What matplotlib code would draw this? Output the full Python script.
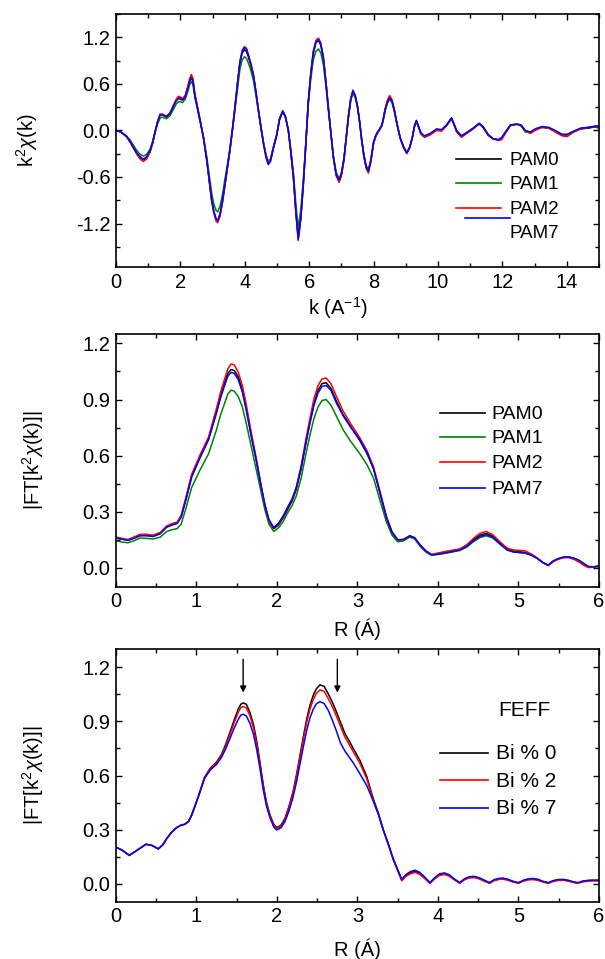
import matplotlib
matplotlib.use("Agg")
import matplotlib.pyplot as plt
from matplotlib.lines import Line2D
from matplotlib.ticker import MultipleLocator

plt.rcParams['font.family'] = ['Liberation Sans', 'DejaVu Sans']
plt.rcParams['mathtext.fontset'] = 'custom'
plt.rcParams['mathtext.rm'] = 'Liberation Sans'
plt.rcParams['mathtext.it'] = 'Liberation Sans:italic'
plt.rcParams['axes.unicode_minus'] = False
plt.rcParams['font.size'] = 12

# ---- k-space EXAFS, k^2 chi(k) ----
k = [0.00, 0.15, 0.33, 0.45, 0.54, 0.65, 0.75, 0.85, 0.95, 1.06,
     1.14, 1.21, 1.29, 1.37, 1.45, 1.57, 1.68, 1.78, 1.87, 1.94,
     2.00, 2.07, 2.15, 2.23, 2.29, 2.34, 2.39, 2.45, 2.53, 2.61,
     2.72, 2.82, 2.90, 2.97, 3.04, 3.11, 3.16, 3.23, 3.31, 3.39,
     3.47, 3.54, 3.62, 3.70, 3.78, 3.85, 3.92, 3.99, 4.05, 4.11,
     4.19, 4.27, 4.35, 4.42, 4.50, 4.58, 4.66, 4.73, 4.80, 4.89,
     4.99, 5.08, 5.18, 5.26, 5.35, 5.43, 5.51, 5.59, 5.66, 5.74,
     5.82, 5.90, 5.97, 6.05, 6.13, 6.21, 6.29, 6.36, 6.44, 6.52,
     6.60, 6.68, 6.75, 6.84, 6.93, 7.00, 7.08, 7.15, 7.22, 7.29,
     7.36, 7.43, 7.50, 7.57, 7.63, 7.70, 7.77, 7.84, 7.92, 8.00,
     8.06, 8.12, 8.19, 8.26, 8.31, 8.36, 8.43, 8.50, 8.57, 8.64,
     8.73, 8.83, 8.93, 9.03, 9.12, 9.20, 9.27, 9.33, 9.40, 9.47,
     9.58, 9.75, 9.96, 10.11, 10.27, 10.42, 10.50, 10.58, 10.73, 10.89,
     11.10, 11.28, 11.40, 11.56, 11.72, 11.88, 11.98, 12.09, 12.25, 12.45,
     12.58, 12.71, 12.87, 13.02, 13.23, 13.44, 13.64, 13.85, 14.01, 14.22,
     14.43, 14.69, 14.90, 15.00]

chi_pam0 = [0.00, -0.02, -0.08, -0.15, -0.22, -0.30, -0.35, -0.38, -0.35, -0.27,
            -0.16, -0.03, 0.10, 0.20, 0.20, 0.17, 0.22, 0.31, 0.39, 0.43,
            0.42, 0.40, 0.44, 0.55, 0.65, 0.70, 0.65, 0.46, 0.30, 0.14,
            -0.10, -0.38, -0.65, -0.89, -1.05, -1.15, -1.17, -1.09, -0.91, -0.68,
            -0.46, -0.25, 0.02, 0.31, 0.62, 0.87, 1.00, 1.04, 1.02, 0.95,
            0.84, 0.70, 0.48, 0.27, 0.05, -0.16, -0.33, -0.42, -0.38, -0.22,
            -0.06, 0.15, 0.25, 0.18, 0.01, -0.27, -0.59, -1.05, -1.38, -1.12,
            -0.68, -0.15, 0.35, 0.72, 1.00, 1.13, 1.16, 1.10, 0.93, 0.62,
            0.27, -0.05, -0.34, -0.57, -0.65, -0.57, -0.38, -0.10, 0.18, 0.40,
            0.50, 0.44, 0.31, 0.10, -0.12, -0.33, -0.47, -0.53, -0.38, -0.16,
            -0.08, -0.03, 0.01, 0.07, 0.16, 0.27, 0.37, 0.43, 0.38, 0.27,
            0.08, -0.10, -0.21, -0.29, -0.22, -0.10, 0.05, 0.12, 0.04, -0.04,
            -0.08, -0.05, 0.01, 0.00, 0.07, 0.16, 0.08, -0.01, -0.08, -0.03,
            0.03, 0.09, 0.04, -0.06, -0.11, -0.12, -0.10, -0.03, 0.07, 0.08,
            0.06, -0.01, -0.03, 0.01, 0.04, 0.03, -0.01, -0.06, -0.06, -0.01,
            0.02, 0.03, 0.05, 0.04]

chi_pam1 = [0.00, -0.02, -0.07, -0.13, -0.19, -0.26, -0.31, -0.33, -0.31, -0.24,
            -0.14, -0.03, 0.08, 0.16, 0.17, 0.15, 0.19, 0.27, 0.34, 0.37,
            0.37, 0.36, 0.40, 0.50, 0.59, 0.63, 0.59, 0.42, 0.27, 0.12,
            -0.09, -0.34, -0.59, -0.80, -0.95, -1.03, -1.05, -0.98, -0.82, -0.61,
            -0.42, -0.23, 0.01, 0.28, 0.56, 0.79, 0.91, 0.95, 0.93, 0.87,
            0.77, 0.64, 0.44, 0.25, 0.04, -0.15, -0.31, -0.40, -0.36, -0.21,
            -0.06, 0.14, 0.24, 0.17, 0.01, -0.25, -0.54, -0.96, -1.26, -1.02,
            -0.62, -0.14, 0.32, 0.66, 0.91, 1.02, 1.05, 1.00, 0.85, 0.57,
            0.25, -0.05, -0.32, -0.54, -0.62, -0.55, -0.36, -0.10, 0.17, 0.38,
            0.48, 0.42, 0.30, 0.10, -0.11, -0.31, -0.45, -0.51, -0.37, -0.16,
            -0.08, -0.03, 0.01, 0.06, 0.15, 0.25, 0.35, 0.40, 0.36, 0.25,
            0.07, -0.10, -0.21, -0.29, -0.22, -0.10, 0.05, 0.11, 0.04, -0.04,
            -0.08, -0.05, 0.01, 0.00, 0.07, 0.15, 0.08, -0.01, -0.07, -0.03,
            0.03, 0.08, 0.04, -0.06, -0.11, -0.12, -0.10, -0.02, 0.07, 0.08,
            0.06, -0.02, -0.03, 0.01, 0.04, 0.03, -0.01, -0.05, -0.06, -0.02,
            0.02, 0.04, 0.04, 0.03]

chi_pam2 = [0.00, -0.02, -0.08, -0.16, -0.23, -0.31, -0.37, -0.40, -0.37, -0.28,
            -0.17, -0.03, 0.11, 0.21, 0.21, 0.18, 0.23, 0.32, 0.40, 0.44,
            0.43, 0.41, 0.45, 0.57, 0.67, 0.72, 0.67, 0.47, 0.31, 0.14,
            -0.11, -0.39, -0.67, -0.91, -1.07, -1.17, -1.19, -1.11, -0.93, -0.70,
            -0.47, -0.26, 0.02, 0.32, 0.64, 0.89, 1.03, 1.08, 1.06, 0.98,
            0.86, 0.72, 0.49, 0.28, 0.05, -0.16, -0.33, -0.41, -0.38, -0.22,
            -0.06, 0.15, 0.25, 0.18, 0.01, -0.28, -0.61, -1.08, -1.42, -1.15,
            -0.70, -0.15, 0.36, 0.74, 1.03, 1.16, 1.19, 1.13, 0.95, 0.63,
            0.28, -0.05, -0.35, -0.59, -0.67, -0.59, -0.39, -0.10, 0.19, 0.41,
            0.52, 0.45, 0.32, 0.10, -0.12, -0.34, -0.49, -0.55, -0.40, -0.17,
            -0.09, -0.04, 0.01, 0.07, 0.17, 0.28, 0.39, 0.45, 0.40, 0.28,
            0.08, -0.11, -0.22, -0.30, -0.23, -0.10, 0.05, 0.12, 0.04, -0.05,
            -0.09, -0.06, 0.00, -0.01, 0.06, 0.15, 0.07, -0.02, -0.09, -0.04,
            0.02, 0.09, 0.05, -0.05, -0.11, -0.13, -0.12, -0.04, 0.06, 0.08,
            0.07, 0.00, -0.04, 0.00, 0.04, 0.03, -0.02, -0.07, -0.08, -0.02,
            0.02, 0.04, 0.06, 0.05]

chi_pam7 = [0.00, -0.02, -0.08, -0.15, -0.22, -0.29, -0.34, -0.37, -0.34, -0.26,
            -0.15, -0.02, 0.11, 0.20, 0.20, 0.18, 0.22, 0.31, 0.38, 0.41,
            0.40, 0.39, 0.43, 0.54, 0.63, 0.68, 0.63, 0.45, 0.29, 0.13,
            -0.10, -0.38, -0.65, -0.89, -1.04, -1.14, -1.16, -1.08, -0.90, -0.67,
            -0.45, -0.24, 0.03, 0.32, 0.63, 0.88, 1.02, 1.07, 1.05, 0.97,
            0.85, 0.71, 0.49, 0.27, 0.04, -0.17, -0.35, -0.44, -0.40, -0.23,
            -0.07, 0.14, 0.25, 0.18, 0.01, -0.27, -0.60, -1.06, -1.40, -1.13,
            -0.69, -0.15, 0.35, 0.73, 1.01, 1.14, 1.17, 1.11, 0.94, 0.62,
            0.27, -0.05, -0.34, -0.57, -0.64, -0.56, -0.37, -0.09, 0.18, 0.40,
            0.51, 0.45, 0.31, 0.10, -0.12, -0.33, -0.47, -0.52, -0.37, -0.15,
            -0.07, -0.02, 0.02, 0.07, 0.16, 0.27, 0.36, 0.42, 0.38, 0.27,
            0.08, -0.10, -0.21, -0.29, -0.22, -0.10, 0.06, 0.13, 0.05, -0.03,
            -0.07, -0.04, 0.02, 0.01, 0.07, 0.16, 0.08, 0.00, -0.07, -0.03,
            0.03, 0.09, 0.05, -0.06, -0.11, -0.12, -0.09, -0.03, 0.07, 0.08,
            0.07, 0.00, -0.02, 0.02, 0.05, 0.04, 0.00, -0.05, -0.05, -0.01,
            0.03, 0.04, 0.05, 0.06]

# ---- Fourier transform magnitude, measured ----
r_exp = [0.00, 0.08, 0.15, 0.22, 0.30, 0.38, 0.46, 0.55, 0.63, 0.70,
         0.76, 0.81, 0.87, 0.94, 1.04, 1.15, 1.25, 1.30, 1.35, 1.39,
         1.43, 1.47, 1.52, 1.57, 1.62, 1.68, 1.75, 1.80, 1.85, 1.90,
         1.96, 2.02, 2.08, 2.14, 2.19, 2.24, 2.30, 2.36, 2.41, 2.46,
         2.51, 2.56, 2.61, 2.67, 2.74, 2.82, 2.91, 3.03, 3.12, 3.20,
         3.28, 3.36, 3.43, 3.50, 3.57, 3.65, 3.71, 3.78, 3.85, 3.92,
         4.00, 4.11, 4.27, 4.36, 4.44, 4.52, 4.60, 4.68, 4.77, 4.86,
         4.94, 5.08, 5.16, 5.23, 5.30, 5.37, 5.43, 5.49, 5.56, 5.62,
         5.69, 5.76, 5.82, 5.87, 5.94, 6.00]

ft_pam0 = [0.160, 0.155, 0.148, 0.160, 0.175, 0.175, 0.170, 0.185, 0.220, 0.232,
           0.240, 0.275, 0.370, 0.490, 0.590, 0.690, 0.840, 0.920, 0.990, 1.040,
           1.060, 1.055, 1.020, 0.950, 0.850, 0.710, 0.560, 0.440, 0.330, 0.250,
           0.210, 0.230, 0.270, 0.320, 0.360, 0.420, 0.530, 0.670, 0.780, 0.880,
           0.950, 0.985, 0.990, 0.960, 0.890, 0.820, 0.760, 0.680, 0.610, 0.530,
           0.400, 0.270, 0.190, 0.150, 0.150, 0.170, 0.160, 0.120, 0.090, 0.070,
           0.075, 0.083, 0.098, 0.120, 0.150, 0.175, 0.185, 0.170, 0.133, 0.100,
           0.090, 0.083, 0.070, 0.053, 0.030, 0.014, 0.035, 0.048, 0.057, 0.059,
           0.050, 0.036, 0.018, 0.005, 0.005, 0.009]

ft_pam1 = [0.145, 0.138, 0.135, 0.145, 0.160, 0.158, 0.155, 0.165, 0.195, 0.205,
           0.210, 0.235, 0.320, 0.430, 0.520, 0.610, 0.740, 0.820, 0.880, 0.930,
           0.950, 0.945, 0.915, 0.860, 0.770, 0.650, 0.510, 0.410, 0.310, 0.235,
           0.195, 0.215, 0.250, 0.300, 0.335, 0.385, 0.480, 0.610, 0.710, 0.800,
           0.860, 0.895, 0.900, 0.870, 0.810, 0.740, 0.680, 0.610, 0.550, 0.480,
           0.360, 0.245, 0.175, 0.140, 0.145, 0.165, 0.155, 0.115, 0.085, 0.068,
           0.072, 0.080, 0.093, 0.112, 0.140, 0.162, 0.172, 0.160, 0.127, 0.095,
           0.086, 0.080, 0.068, 0.052, 0.030, 0.015, 0.036, 0.049, 0.057, 0.059,
           0.050, 0.037, 0.019, 0.007, 0.007, 0.010]

ft_pam2 = [0.165, 0.158, 0.152, 0.165, 0.180, 0.180, 0.175, 0.190, 0.225, 0.238,
           0.245, 0.282, 0.380, 0.500, 0.600, 0.700, 0.855, 0.940, 1.010, 1.065,
           1.090, 1.085, 1.045, 0.975, 0.870, 0.725, 0.570, 0.445, 0.335, 0.255,
           0.215, 0.235, 0.278, 0.330, 0.370, 0.430, 0.545, 0.690, 0.800, 0.905,
           0.975, 1.010, 1.015, 0.985, 0.915, 0.840, 0.775, 0.695, 0.625, 0.540,
           0.410, 0.275, 0.192, 0.152, 0.152, 0.172, 0.162, 0.123, 0.092, 0.073,
           0.080, 0.090, 0.102, 0.125, 0.158, 0.185, 0.195, 0.178, 0.140, 0.106,
           0.096, 0.092, 0.075, 0.055, 0.030, 0.013, 0.033, 0.046, 0.055, 0.056,
           0.046, 0.030, 0.012, 0.002, 0.005, 0.012]

ft_pam7 = [0.160, 0.153, 0.148, 0.158, 0.172, 0.172, 0.168, 0.183, 0.218, 0.230,
           0.238, 0.272, 0.365, 0.485, 0.585, 0.685, 0.830, 0.910, 0.975, 1.025,
           1.045, 1.040, 1.005, 0.940, 0.840, 0.705, 0.560, 0.445, 0.340, 0.260,
           0.215, 0.240, 0.280, 0.330, 0.370, 0.430, 0.535, 0.670, 0.775, 0.870,
           0.935, 0.970, 0.975, 0.950, 0.880, 0.815, 0.755, 0.685, 0.615, 0.530,
           0.400, 0.270, 0.190, 0.150, 0.152, 0.172, 0.162, 0.122, 0.090, 0.070,
           0.074, 0.082, 0.096, 0.117, 0.145, 0.168, 0.178, 0.165, 0.130, 0.097,
           0.085, 0.080, 0.068, 0.052, 0.030, 0.015, 0.037, 0.050, 0.058, 0.060,
           0.053, 0.040, 0.022, 0.008, 0.006, 0.012]

# ---- Fourier transform magnitude, FEFF calculation ----
r_feff = [0.00, 0.08, 0.165, 0.26, 0.373, 0.45, 0.525, 0.58, 0.63, 0.69,
          0.75, 0.80, 0.857, 0.90, 0.94, 1.02, 1.10, 1.17, 1.25, 1.31,
          1.36, 1.416, 1.47, 1.52, 1.55, 1.58, 1.62, 1.664, 1.71, 1.75,
          1.79, 1.83, 1.87, 1.914, 1.96, 1.996, 2.05, 2.10, 2.15, 2.20,
          2.245, 2.286, 2.33, 2.37, 2.41, 2.45, 2.49, 2.534, 2.585, 2.637,
          2.69, 2.74, 2.79, 2.845, 2.90, 2.948, 3.03, 3.115, 3.19, 3.26,
          3.32, 3.39, 3.445, 3.50, 3.55, 3.60, 3.66, 3.715, 3.77, 3.83,
          3.90, 3.96, 4.02, 4.08, 4.14, 4.20, 4.27, 4.33, 4.39, 4.45,
          4.51, 4.57, 4.64, 4.70, 4.76, 4.81, 4.87, 4.93, 5.00, 5.06,
          5.12, 5.18, 5.24, 5.30, 5.37, 5.43, 5.49, 5.56, 5.62, 5.68,
          5.74, 5.80, 5.87, 5.93, 6.00]

feff_bi0 = [0.203, 0.185, 0.157, 0.185, 0.219, 0.212, 0.193, 0.215, 0.250, 0.285,
            0.310, 0.323, 0.330, 0.345, 0.380, 0.480, 0.590, 0.640, 0.675, 0.716,
            0.770, 0.840, 0.910, 0.970, 0.995, 1.003, 0.995, 0.950, 0.880, 0.786,
            0.670, 0.547, 0.450, 0.380, 0.330, 0.311, 0.325, 0.363, 0.430, 0.510,
            0.610, 0.712, 0.820, 0.915, 0.990, 1.044, 1.082, 1.103, 1.095, 1.053,
            1.005, 0.952, 0.895, 0.832, 0.790, 0.750, 0.685, 0.595, 0.480, 0.390,
            0.300, 0.210, 0.135, 0.075, 0.022, 0.045, 0.062, 0.068, 0.058, 0.035,
            0.004, 0.030, 0.050, 0.055, 0.045, 0.025, 0.004, 0.025, 0.035, 0.037,
            0.030, 0.018, 0.004, 0.020, 0.027, 0.028, 0.022, 0.012, 0.004, 0.017,
            0.024, 0.026, 0.022, 0.012, 0.004, 0.015, 0.021, 0.022, 0.017, 0.009,
            0.004, 0.013, 0.017, 0.018, 0.018]

feff_bi2 = [0.203, 0.185, 0.157, 0.185, 0.219, 0.212, 0.193, 0.215, 0.250, 0.285,
            0.310, 0.323, 0.330, 0.345, 0.380, 0.480, 0.588, 0.636, 0.670, 0.710,
            0.760, 0.828, 0.895, 0.952, 0.977, 0.983, 0.975, 0.932, 0.862, 0.772,
            0.660, 0.540, 0.445, 0.375, 0.325, 0.306, 0.320, 0.357, 0.423, 0.502,
            0.600, 0.700, 0.805, 0.897, 0.968, 1.020, 1.056, 1.075, 1.068, 1.027,
            0.980, 0.928, 0.872, 0.812, 0.770, 0.732, 0.668, 0.583, 0.472, 0.385,
            0.297, 0.208, 0.133, 0.072, 0.016, 0.040, 0.056, 0.062, 0.053, 0.031,
            0.002, 0.027, 0.046, 0.051, 0.042, 0.022, 0.002, 0.022, 0.032, 0.034,
            0.027, 0.015, 0.002, 0.017, 0.024, 0.025, 0.019, 0.010, 0.002, 0.014,
            0.021, 0.023, 0.019, 0.010, 0.002, 0.012, 0.018, 0.019, 0.014, 0.007,
            0.002, 0.010, 0.014, 0.016, 0.016]

feff_bi7 = [0.203, 0.185, 0.157, 0.185, 0.219, 0.212, 0.193, 0.215, 0.250, 0.285,
            0.310, 0.323, 0.330, 0.345, 0.380, 0.478, 0.584, 0.630, 0.662, 0.700,
            0.745, 0.805, 0.865, 0.912, 0.935, 0.940, 0.930, 0.890, 0.825, 0.740,
            0.635, 0.520, 0.430, 0.365, 0.315, 0.298, 0.310, 0.345, 0.405, 0.480,
            0.570, 0.665, 0.765, 0.852, 0.920, 0.967, 0.998, 1.010, 1.000, 0.962,
            0.905, 0.845, 0.780, 0.735, 0.700, 0.670, 0.610, 0.545, 0.465, 0.385,
            0.300, 0.212, 0.138, 0.078, 0.025, 0.050, 0.068, 0.075, 0.064, 0.040,
            0.006, 0.034, 0.055, 0.060, 0.050, 0.028, 0.006, 0.028, 0.039, 0.041,
            0.034, 0.021, 0.006, 0.023, 0.030, 0.031, 0.025, 0.014, 0.006, 0.019,
            0.027, 0.029, 0.025, 0.014, 0.006, 0.017, 0.023, 0.024, 0.019, 0.011,
            0.006, 0.015, 0.019, 0.020, 0.020]

arrow_r = [1.58, 2.75]
exp_labels = ['PAM0', 'PAM1', 'PAM2', 'PAM7']
feff_labels = ['Bi % 0', 'Bi % 2', 'Bi % 7']
colors4 = ['black', '#008000', 'red', 'blue']
colors3 = ['black', 'red', 'blue']

TICK_FS = 14.5
LABEL_FS = 14.5


def style_axes(ax, xmajor, xminor, ymajor, yminor):
    ax.xaxis.set_major_locator(MultipleLocator(xmajor))
    ax.xaxis.set_minor_locator(MultipleLocator(xminor))
    ax.yaxis.set_major_locator(MultipleLocator(ymajor))
    ax.yaxis.set_minor_locator(MultipleLocator(yminor))
    ax.tick_params(which='both', direction='in', top=True, right=True,
                   labelsize=TICK_FS, width=1.0)
    ax.tick_params(which='major', length=4)
    ax.tick_params(which='minor', length=3)
    ax.tick_params(axis='x', pad=4)
    ax.tick_params(axis='y', pad=4)
    for s in ax.spines.values():
        s.set_linewidth(1.2)


def set_labels(ax, xl, yl, xpos, ypos, xcenter=0.5):
    ax.set_xlabel(xl, fontsize=LABEL_FS)
    ax.set_ylabel(yl, fontsize=LABEL_FS)
    ax.xaxis.set_label_coords(xcenter, xpos)
    ax.xaxis.label.set_verticalalignment('center')
    ax.yaxis.set_label_coords(ypos, 0.5)
    ax.yaxis.label.set_verticalalignment('center')
    ax.yaxis.label.set_rotation_mode('anchor')


def key_line(ax, x0, x1, y, color):
    ax.add_line(Line2D([x0, x1], [y, y], transform=ax.transAxes,
                       color=color, lw=1.2))


fig = plt.figure(figsize=(6.05, 9.59), dpi=100)
ax1 = fig.add_axes([0.1917, 0.7216, 0.7983, 0.2638])
ax2 = fig.add_axes([0.1917, 0.3882, 0.7983, 0.2635])
ax3 = fig.add_axes([0.1917, 0.0597, 0.7983, 0.2632])

# top: k^2 chi(k)
for y, c in zip([chi_pam0, chi_pam1, chi_pam2, chi_pam7], colors4):
    ax1.plot(k, y, color=c, lw=1.1)
ax1.set_xlim(0, 15)
ax1.set_ylim(-1.76, 1.5)
style_axes(ax1, 2, 1, 0.6, 0.3)
set_labels(ax1, r'k (A$^{-1}$)', r'k$^2\chi$(k)', -0.162, -0.184, xcenter=0.46)
# legend entries as drawn in the original figure (blue key sits between rows)
key_line(ax1, 0.703, 0.797, 0.428, 'black')
key_line(ax1, 0.703, 0.797, 0.331, '#008000')
key_line(ax1, 0.703, 0.797, 0.232, 'red')
key_line(ax1, 0.7226, 0.8149, 0.1925, 'blue')
for lab, yy in zip(exp_labels, [0.419, 0.328, 0.229, 0.134]):
    ax1.text(0.8157, yy, lab, transform=ax1.transAxes, fontsize=13.5,
             ha='left', va='center')

# middle: measured FT
for y, c, lab in zip([ft_pam0, ft_pam1, ft_pam2, ft_pam7], colors4, exp_labels):
    ax2.plot(r_exp, y, color=c, lw=1.1, label=lab)
ax2.set_xlim(0, 6)
ax2.set_ylim(-0.1, 1.25)
style_axes(ax2, 1, 0.5, 0.3, 0.15)
set_labels(ax2, 'R (Á)', r'|FT[k$^2\chi$(k)]|', -0.167, -0.172)
for c, lab, yy in zip(colors4, exp_labels, [0.6886, 0.5913, 0.4923, 0.3918]):
    key_line(ax2, 0.6708, 0.7631, yy, c)
    ax2.text(0.7774, yy - 0.006, lab, transform=ax2.transAxes, fontsize=14,
             ha='left', va='center')

# bottom: FEFF FT
for y, c in zip([feff_bi0, feff_bi2, feff_bi7], colors3):
    ax3.plot(r_feff, y, color=c, lw=1.1)
ax3.set_xlim(0, 6)
ax3.set_ylim(-0.1, 1.3)
style_axes(ax3, 1, 0.5, 0.3, 0.15)
set_labels(ax3, 'R (Á)', r'|FT[k$^2\chi$(k)]|', -0.19, -0.172)
ax3.text(0.791, 0.757, 'FEFF', transform=ax3.transAxes, fontsize=15,
         ha='left', va='center')
for c, lab, yy in zip(colors3, feff_labels, [0.5903, 0.4822, 0.3724]):
    key_line(ax3, 0.6708, 0.7710, yy, c)
    ax3.text(0.7867, yy - 0.004, lab, transform=ax3.transAxes, fontsize=15,
             ha='left', va='center')
for xr in arrow_r:
    ax3.annotate('', xy=(xr, 1.06), xytext=(xr, 1.245),
                 arrowprops=dict(arrowstyle='-|>', color='black', lw=1.0,
                                 mutation_scale=9, shrinkA=0, shrinkB=0))

fig.savefig('out.png', dpi=100)
